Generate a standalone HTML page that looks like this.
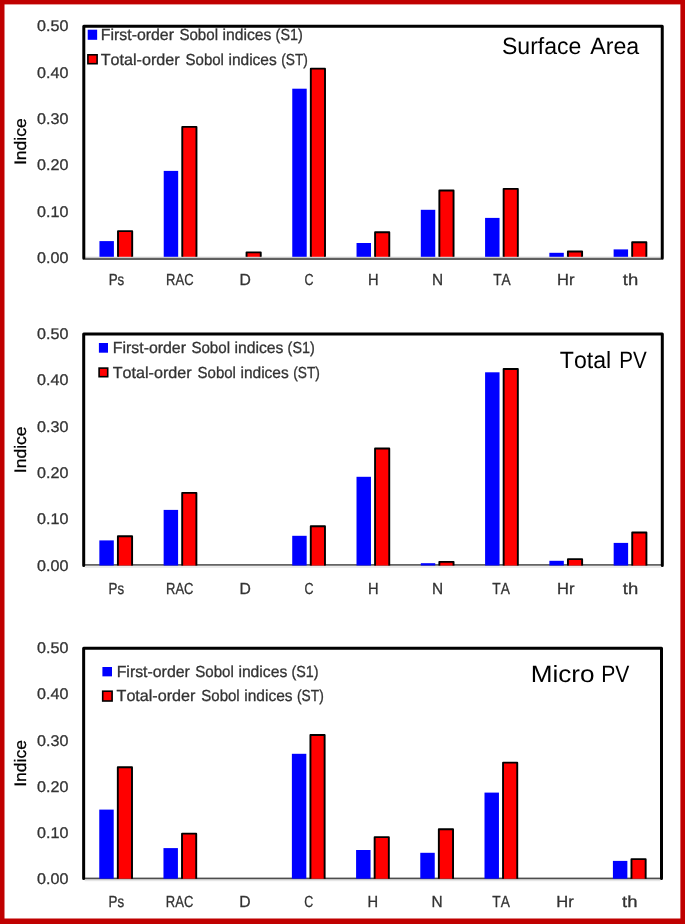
<!DOCTYPE html>
<html><head><meta charset="utf-8"><title>Sobol indices</title>
<style>
html,body{margin:0;padding:0;background:#fff;}
body{width:685px;height:924px;overflow:hidden;}
svg{display:block;will-change:transform;}
text{font-family:"Liberation Sans", sans-serif;font-kerning:none;white-space:pre;text-rendering:geometricPrecision;}
</style></head><body>
<svg width="685" height="924" viewBox="0 0 685 924">
<rect x="0" y="0" width="685" height="924" fill="#ffffff"/>
<rect x="84.8" y="256" width="576.45" height="1" fill="#f2f2f2"/>
<rect x="99.45" y="241.1" width="14.45" height="15.7" fill="#0000ff"/>
<rect x="118" y="231.15" width="14.2" height="25.65" fill="#ff0000"/>
<path d="M118 256.8V231.15H132.2V256.8" fill="none" stroke="#000" stroke-width="1.9" stroke-linejoin="round"/>
<rect x="163.72" y="170.9" width="14.45" height="85.9" fill="#0000ff"/>
<rect x="182.27" y="126.9" width="14.2" height="129.9" fill="#ff0000"/>
<path d="M182.27 256.8V126.9H196.47V256.8" fill="none" stroke="#000" stroke-width="1.9" stroke-linejoin="round"/>
<rect x="246.54" y="252.35" width="14.2" height="4.45" fill="#ff0000"/>
<path d="M246.54 256.8V252.35H260.74V256.8" fill="none" stroke="#000" stroke-width="1.9" stroke-linejoin="round"/>
<rect x="292.26" y="88.7" width="14.45" height="168.1" fill="#0000ff"/>
<rect x="310.81" y="68.65" width="14.2" height="188.15" fill="#ff0000"/>
<path d="M310.81 256.8V68.65H325.01V256.8" fill="none" stroke="#000" stroke-width="1.9" stroke-linejoin="round"/>
<rect x="356.54" y="243" width="14.45" height="13.8" fill="#0000ff"/>
<rect x="375.09" y="232.25" width="14.2" height="24.55" fill="#ff0000"/>
<path d="M375.09 256.8V232.25H389.29V256.8" fill="none" stroke="#000" stroke-width="1.9" stroke-linejoin="round"/>
<rect x="420.81" y="209.8" width="14.45" height="47" fill="#0000ff"/>
<rect x="439.36" y="190.45" width="14.2" height="66.35" fill="#ff0000"/>
<path d="M439.36 256.8V190.45H453.56V256.8" fill="none" stroke="#000" stroke-width="1.9" stroke-linejoin="round"/>
<rect x="485.08" y="217.9" width="14.45" height="38.9" fill="#0000ff"/>
<rect x="503.63" y="188.85" width="14.2" height="67.95" fill="#ff0000"/>
<path d="M503.63 256.8V188.85H517.83V256.8" fill="none" stroke="#000" stroke-width="1.9" stroke-linejoin="round"/>
<rect x="549.35" y="252.8" width="14.45" height="4" fill="#0000ff"/>
<rect x="567.9" y="251.45" width="14.2" height="5.35" fill="#ff0000"/>
<path d="M567.9 256.8V251.45H582.1V256.8" fill="none" stroke="#000" stroke-width="1.9" stroke-linejoin="round"/>
<rect x="613.62" y="249.4" width="14.45" height="7.4" fill="#0000ff"/>
<rect x="632.17" y="242.25" width="14.2" height="14.55" fill="#ff0000"/>
<path d="M632.17 256.8V242.25H646.37V256.8" fill="none" stroke="#000" stroke-width="1.9" stroke-linejoin="round"/>
<rect x="84.8" y="257" width="576.45" height="1.05" fill="#c9c9c9"/>
<rect x="84.8" y="258.05" width="576.45" height="1.9" fill="#595959"/>
<path d="M83.8 258.3V26.35H662.25V258.3" fill="none" stroke="#000" stroke-width="3" stroke-linejoin="round" stroke-linecap="round"/>
<text x="37.02" y="31" font-size="15.4" fill="#333333" textLength="31.41" lengthAdjust="spacingAndGlyphs" stroke="#333333" stroke-width="0.3">0.50</text>
<text x="37.02" y="78" font-size="15.4" fill="#333333" textLength="31.41" lengthAdjust="spacingAndGlyphs" stroke="#333333" stroke-width="0.3">0.40</text>
<text x="37.02" y="124" font-size="15.4" fill="#333333" textLength="31.41" lengthAdjust="spacingAndGlyphs" stroke="#333333" stroke-width="0.3">0.30</text>
<text x="37.02" y="170" font-size="15.4" fill="#333333" textLength="31.41" lengthAdjust="spacingAndGlyphs" stroke="#333333" stroke-width="0.3">0.20</text>
<text x="37.02" y="217" font-size="15.4" fill="#333333" textLength="31.41" lengthAdjust="spacingAndGlyphs" stroke="#333333" stroke-width="0.3">0.10</text>
<text x="37.02" y="263" font-size="15.4" fill="#333333" textLength="31.41" lengthAdjust="spacingAndGlyphs" stroke="#333333" stroke-width="0.3">0.00</text>
<text x="108.7" y="285.1" font-size="16" fill="#333333" textLength="15.58" lengthAdjust="spacingAndGlyphs" stroke="#333333" stroke-width="0.3">Ps</text>
<text x="166.12" y="285.1" font-size="16" fill="#333333" textLength="27.46" lengthAdjust="spacingAndGlyphs" stroke="#333333" stroke-width="0.3">RAC</text>
<text x="239.5" y="285.1" font-size="16" fill="#333333" textLength="11.34" lengthAdjust="spacingAndGlyphs" stroke="#333333" stroke-width="0.3">D</text>
<text x="304.55" y="285.1" font-size="16" fill="#333333" textLength="9.01" lengthAdjust="spacingAndGlyphs" stroke="#333333" stroke-width="0.3">C</text>
<text x="367.97" y="285.1" font-size="16" fill="#333333" textLength="10.6" lengthAdjust="spacingAndGlyphs" stroke="#333333" stroke-width="0.3">H</text>
<text x="431.91" y="285.1" font-size="16" fill="#333333" textLength="11.12" lengthAdjust="spacingAndGlyphs" stroke="#333333" stroke-width="0.3">N</text>
<text x="493.16" y="285.1" font-size="16" fill="#333333" textLength="17.54" lengthAdjust="spacingAndGlyphs" stroke="#333333" stroke-width="0.3">TA</text>
<text x="557" y="285.1" font-size="16" fill="#333333" textLength="17.43" lengthAdjust="spacingAndGlyphs" stroke="#333333" stroke-width="0.3">Hr</text>
<text x="622.77" y="285.1" font-size="16" fill="#333333" textLength="15.38" lengthAdjust="spacingAndGlyphs" stroke="#333333" stroke-width="0.3">th</text>
<text transform="translate(25.5 141.3) rotate(-90)" x="-23.82" y="0" font-size="16.6" fill="#000" stroke="#000" stroke-width="0.25" textLength="46.8" lengthAdjust="spacingAndGlyphs">Indice</text>
<text x="501.95" y="54" font-size="23.5" fill="#000" textLength="79.47" lengthAdjust="spacingAndGlyphs">Surface</text>
<text x="590.25" y="54" font-size="23.5" fill="#000" textLength="48.95" lengthAdjust="spacingAndGlyphs">Area</text>
<rect x="87.7" y="29.7" width="9.45" height="10.1" fill="#0000ff"/>
<rect x="87.9" y="54.8" width="9.2" height="8.9" fill="#ff0000" stroke="#000" stroke-width="1.6"/>
<text x="100.86" y="40" font-size="16" fill="#333333" textLength="73.11" lengthAdjust="spacingAndGlyphs" stroke="#333333" stroke-width="0.3">First-order</text>
<text x="179.42" y="40" font-size="16" fill="#333333" textLength="38.59" lengthAdjust="spacingAndGlyphs" stroke="#333333" stroke-width="0.3">Sobol</text>
<text x="222.56" y="40" font-size="16" fill="#333333" textLength="48.92" lengthAdjust="spacingAndGlyphs" stroke="#333333" stroke-width="0.3">indices</text>
<text x="275.62" y="40" font-size="16" fill="#333333" textLength="27.08" lengthAdjust="spacingAndGlyphs" stroke="#333333" stroke-width="0.3">(S1)</text>
<text x="100.74" y="65" font-size="16" fill="#333333" textLength="78.83" lengthAdjust="spacingAndGlyphs" stroke="#333333" stroke-width="0.3">Total-order</text>
<text x="185.52" y="65" font-size="16" fill="#333333" textLength="38.39" lengthAdjust="spacingAndGlyphs" stroke="#333333" stroke-width="0.3">Sobol</text>
<text x="228.46" y="65" font-size="16" fill="#333333" textLength="48.3" lengthAdjust="spacingAndGlyphs" stroke="#333333" stroke-width="0.3">indices</text>
<text x="281.25" y="65" font-size="16" fill="#333333" textLength="26.7" lengthAdjust="spacingAndGlyphs" stroke="#333333" stroke-width="0.3">(ST)</text>
<rect x="84.7" y="565.7" width="576.6" height="2.3" fill="#ececec"/>
<rect x="84.7" y="564.1" width="576.6" height="1.6" fill="#555555"/>
<rect x="99.35" y="540.4" width="14.45" height="25.1" fill="#0000ff"/>
<rect x="117.9" y="536.25" width="14.2" height="29.25" fill="#ff0000"/>
<path d="M117.9 565.5V536.25H132.1V565.5" fill="none" stroke="#000" stroke-width="1.9" stroke-linejoin="round"/>
<rect x="163.64" y="509.9" width="14.45" height="55.6" fill="#0000ff"/>
<rect x="182.19" y="492.85" width="14.2" height="72.65" fill="#ff0000"/>
<path d="M182.19 565.5V492.85H196.39V565.5" fill="none" stroke="#000" stroke-width="1.9" stroke-linejoin="round"/>
<rect x="292.22" y="535.8" width="14.45" height="29.7" fill="#0000ff"/>
<rect x="310.77" y="526.25" width="14.2" height="39.25" fill="#ff0000"/>
<path d="M310.77 565.5V526.25H324.97V565.5" fill="none" stroke="#000" stroke-width="1.9" stroke-linejoin="round"/>
<rect x="356.51" y="476.8" width="14.45" height="88.7" fill="#0000ff"/>
<rect x="375.06" y="448.45" width="14.2" height="117.05" fill="#ff0000"/>
<path d="M375.06 565.5V448.45H389.26V565.5" fill="none" stroke="#000" stroke-width="1.9" stroke-linejoin="round"/>
<rect x="420.8" y="563.2" width="14.45" height="2.3" fill="#0000ff"/>
<rect x="439.35" y="561.85" width="14.2" height="3.65" fill="#ff0000"/>
<path d="M439.35 565.5V561.85H453.55V565.5" fill="none" stroke="#000" stroke-width="1.9" stroke-linejoin="round"/>
<rect x="485.09" y="372.3" width="14.45" height="193.2" fill="#0000ff"/>
<rect x="503.64" y="369.05" width="14.2" height="196.45" fill="#ff0000"/>
<path d="M503.64 565.5V369.05H517.84V565.5" fill="none" stroke="#000" stroke-width="1.9" stroke-linejoin="round"/>
<rect x="549.38" y="560.8" width="14.45" height="4.7" fill="#0000ff"/>
<rect x="567.93" y="559.15" width="14.2" height="6.35" fill="#ff0000"/>
<path d="M567.93 565.5V559.15H582.13V565.5" fill="none" stroke="#000" stroke-width="1.9" stroke-linejoin="round"/>
<rect x="613.67" y="542.9" width="14.45" height="22.6" fill="#0000ff"/>
<rect x="632.22" y="532.45" width="14.2" height="33.05" fill="#ff0000"/>
<path d="M632.22 565.5V532.45H646.42V565.5" fill="none" stroke="#000" stroke-width="1.9" stroke-linejoin="round"/>
<path d="M83.7 565.4V334.05H662.3V565.4" fill="none" stroke="#000" stroke-width="3" stroke-linejoin="round" stroke-linecap="round"/>
<text x="37.02" y="339" font-size="15.4" fill="#333333" textLength="31.41" lengthAdjust="spacingAndGlyphs" stroke="#333333" stroke-width="0.3">0.50</text>
<text x="37.02" y="385" font-size="15.4" fill="#333333" textLength="31.41" lengthAdjust="spacingAndGlyphs" stroke="#333333" stroke-width="0.3">0.40</text>
<text x="37.02" y="432" font-size="15.4" fill="#333333" textLength="31.41" lengthAdjust="spacingAndGlyphs" stroke="#333333" stroke-width="0.3">0.30</text>
<text x="37.02" y="478" font-size="15.4" fill="#333333" textLength="31.41" lengthAdjust="spacingAndGlyphs" stroke="#333333" stroke-width="0.3">0.20</text>
<text x="37.02" y="524" font-size="15.4" fill="#333333" textLength="31.41" lengthAdjust="spacingAndGlyphs" stroke="#333333" stroke-width="0.3">0.10</text>
<text x="37.02" y="571" font-size="15.4" fill="#333333" textLength="31.41" lengthAdjust="spacingAndGlyphs" stroke="#333333" stroke-width="0.3">0.00</text>
<text x="108.61" y="593.8" font-size="16" fill="#333333" textLength="15.58" lengthAdjust="spacingAndGlyphs" stroke="#333333" stroke-width="0.3">Ps</text>
<text x="166.05" y="593.8" font-size="16" fill="#333333" textLength="27.46" lengthAdjust="spacingAndGlyphs" stroke="#333333" stroke-width="0.3">RAC</text>
<text x="239.44" y="593.8" font-size="16" fill="#333333" textLength="11.34" lengthAdjust="spacingAndGlyphs" stroke="#333333" stroke-width="0.3">D</text>
<text x="304.51" y="593.8" font-size="16" fill="#333333" textLength="9.01" lengthAdjust="spacingAndGlyphs" stroke="#333333" stroke-width="0.3">C</text>
<text x="367.95" y="593.8" font-size="16" fill="#333333" textLength="10.6" lengthAdjust="spacingAndGlyphs" stroke="#333333" stroke-width="0.3">H</text>
<text x="431.9" y="593.8" font-size="16" fill="#333333" textLength="11.12" lengthAdjust="spacingAndGlyphs" stroke="#333333" stroke-width="0.3">N</text>
<text x="492.26" y="593.8" font-size="16" fill="#333333" textLength="17.54" lengthAdjust="spacingAndGlyphs" stroke="#333333" stroke-width="0.3">TA</text>
<text x="557.03" y="593.8" font-size="16" fill="#333333" textLength="17.43" lengthAdjust="spacingAndGlyphs" stroke="#333333" stroke-width="0.3">Hr</text>
<text x="622.82" y="593.8" font-size="16" fill="#333333" textLength="15.38" lengthAdjust="spacingAndGlyphs" stroke="#333333" stroke-width="0.3">th</text>
<text transform="translate(25.5 449.4) rotate(-90)" x="-23.82" y="0" font-size="16.6" fill="#000" stroke="#000" stroke-width="0.25" textLength="46.8" lengthAdjust="spacingAndGlyphs">Indice</text>
<text x="559.78" y="368" font-size="23.5" fill="#000" textLength="51.36" lengthAdjust="spacingAndGlyphs">Total</text>
<text x="619.31" y="368" font-size="23.5" fill="#000" textLength="27.48" lengthAdjust="spacingAndGlyphs">PV</text>
<rect x="98.9" y="343" width="9.1" height="9.7" fill="#0000ff"/>
<rect x="99.1" y="368.1" width="8.6" height="8.6" fill="#ff0000" stroke="#000" stroke-width="1.6"/>
<text x="112.86" y="353" font-size="16" fill="#333333" textLength="73.11" lengthAdjust="spacingAndGlyphs" stroke="#333333" stroke-width="0.3">First-order</text>
<text x="191.42" y="353" font-size="16" fill="#333333" textLength="38.59" lengthAdjust="spacingAndGlyphs" stroke="#333333" stroke-width="0.3">Sobol</text>
<text x="234.56" y="353" font-size="16" fill="#333333" textLength="48.92" lengthAdjust="spacingAndGlyphs" stroke="#333333" stroke-width="0.3">indices</text>
<text x="287.62" y="353" font-size="16" fill="#333333" textLength="27.08" lengthAdjust="spacingAndGlyphs" stroke="#333333" stroke-width="0.3">(S1)</text>
<text x="112.74" y="378" font-size="16" fill="#333333" textLength="78.83" lengthAdjust="spacingAndGlyphs" stroke="#333333" stroke-width="0.3">Total-order</text>
<text x="197.52" y="378" font-size="16" fill="#333333" textLength="38.39" lengthAdjust="spacingAndGlyphs" stroke="#333333" stroke-width="0.3">Sobol</text>
<text x="240.46" y="378" font-size="16" fill="#333333" textLength="48.3" lengthAdjust="spacingAndGlyphs" stroke="#333333" stroke-width="0.3">indices</text>
<text x="293.25" y="378" font-size="16" fill="#333333" textLength="26.7" lengthAdjust="spacingAndGlyphs" stroke="#333333" stroke-width="0.3">(ST)</text>
<rect x="84.65" y="879.25" width="575.85" height="1.95" fill="#e6e6e6"/>
<rect x="84.65" y="877.6" width="575.85" height="1.65" fill="#4d4d4d"/>
<rect x="99.26" y="809.6" width="14.45" height="69.1" fill="#0000ff"/>
<rect x="117.81" y="767.25" width="14.2" height="111.45" fill="#ff0000"/>
<path d="M117.81 878.7V767.25H132.01V878.7" fill="none" stroke="#000" stroke-width="1.9" stroke-linejoin="round"/>
<rect x="163.47" y="848.1" width="14.45" height="30.6" fill="#0000ff"/>
<rect x="182.02" y="833.65" width="14.2" height="45.05" fill="#ff0000"/>
<path d="M182.02 878.7V833.65H196.22V878.7" fill="none" stroke="#000" stroke-width="1.9" stroke-linejoin="round"/>
<rect x="291.88" y="753.8" width="14.45" height="124.9" fill="#0000ff"/>
<rect x="310.43" y="734.95" width="14.2" height="143.75" fill="#ff0000"/>
<path d="M310.43 878.7V734.95H324.63V878.7" fill="none" stroke="#000" stroke-width="1.9" stroke-linejoin="round"/>
<rect x="356.09" y="850" width="14.45" height="28.7" fill="#0000ff"/>
<rect x="374.64" y="837.15" width="14.2" height="41.55" fill="#ff0000"/>
<path d="M374.64 878.7V837.15H388.84V878.7" fill="none" stroke="#000" stroke-width="1.9" stroke-linejoin="round"/>
<rect x="420.29" y="852.8" width="14.45" height="25.9" fill="#0000ff"/>
<rect x="438.84" y="829.25" width="14.2" height="49.45" fill="#ff0000"/>
<path d="M438.84 878.7V829.25H453.04V878.7" fill="none" stroke="#000" stroke-width="1.9" stroke-linejoin="round"/>
<rect x="484.5" y="792.6" width="14.45" height="86.1" fill="#0000ff"/>
<rect x="503.05" y="762.65" width="14.2" height="116.05" fill="#ff0000"/>
<path d="M503.05 878.7V762.65H517.25V878.7" fill="none" stroke="#000" stroke-width="1.9" stroke-linejoin="round"/>
<rect x="612.91" y="860.9" width="14.45" height="17.8" fill="#0000ff"/>
<rect x="631.46" y="859.15" width="14.2" height="19.55" fill="#ff0000"/>
<path d="M631.46 878.7V859.15H645.66V878.7" fill="none" stroke="#000" stroke-width="1.9" stroke-linejoin="round"/>
<path d="M83.65 878.6V648.2H661.5V878.6" fill="none" stroke="#000" stroke-width="3" stroke-linejoin="round" stroke-linecap="round"/>
<text x="37.02" y="653" font-size="15.4" fill="#333333" textLength="31.41" lengthAdjust="spacingAndGlyphs" stroke="#333333" stroke-width="0.3">0.50</text>
<text x="37.02" y="699" font-size="15.4" fill="#333333" textLength="31.41" lengthAdjust="spacingAndGlyphs" stroke="#333333" stroke-width="0.3">0.40</text>
<text x="37.02" y="746" font-size="15.4" fill="#333333" textLength="31.41" lengthAdjust="spacingAndGlyphs" stroke="#333333" stroke-width="0.3">0.30</text>
<text x="37.02" y="792" font-size="15.4" fill="#333333" textLength="31.41" lengthAdjust="spacingAndGlyphs" stroke="#333333" stroke-width="0.3">0.20</text>
<text x="37.02" y="838" font-size="15.4" fill="#333333" textLength="31.41" lengthAdjust="spacingAndGlyphs" stroke="#333333" stroke-width="0.3">0.10</text>
<text x="37.02" y="884" font-size="15.4" fill="#333333" textLength="31.41" lengthAdjust="spacingAndGlyphs" stroke="#333333" stroke-width="0.3">0.00</text>
<text x="108.52" y="907" font-size="16" fill="#333333" textLength="15.58" lengthAdjust="spacingAndGlyphs" stroke="#333333" stroke-width="0.3">Ps</text>
<text x="165.87" y="907" font-size="16" fill="#333333" textLength="27.46" lengthAdjust="spacingAndGlyphs" stroke="#333333" stroke-width="0.3">RAC</text>
<text x="239.18" y="907" font-size="16" fill="#333333" textLength="11.34" lengthAdjust="spacingAndGlyphs" stroke="#333333" stroke-width="0.3">D</text>
<text x="304.16" y="907" font-size="16" fill="#333333" textLength="9.01" lengthAdjust="spacingAndGlyphs" stroke="#333333" stroke-width="0.3">C</text>
<text x="367.52" y="907" font-size="16" fill="#333333" textLength="10.6" lengthAdjust="spacingAndGlyphs" stroke="#333333" stroke-width="0.3">H</text>
<text x="431.39" y="907" font-size="16" fill="#333333" textLength="11.12" lengthAdjust="spacingAndGlyphs" stroke="#333333" stroke-width="0.3">N</text>
<text x="492.27" y="907" font-size="16" fill="#333333" textLength="17.54" lengthAdjust="spacingAndGlyphs" stroke="#333333" stroke-width="0.3">TA</text>
<text x="556.35" y="907" font-size="16" fill="#333333" textLength="17.43" lengthAdjust="spacingAndGlyphs" stroke="#333333" stroke-width="0.3">Hr</text>
<text x="622.06" y="907" font-size="16" fill="#333333" textLength="15.38" lengthAdjust="spacingAndGlyphs" stroke="#333333" stroke-width="0.3">th</text>
<text transform="translate(25.5 763.05) rotate(-90)" x="-23.82" y="0" font-size="16.6" fill="#000" stroke="#000" stroke-width="0.25" textLength="46.8" lengthAdjust="spacingAndGlyphs">Indice</text>
<text x="530.65" y="682" font-size="23.5" fill="#000" textLength="63.94" lengthAdjust="spacingAndGlyphs">Micro</text>
<text x="601.16" y="682" font-size="23.5" fill="#000" textLength="28.23" lengthAdjust="spacingAndGlyphs">PV</text>
<rect x="102.4" y="667" width="9.6" height="9.35" fill="#0000ff"/>
<rect x="102.7" y="691.2" width="9.4" height="9.8" fill="#ff0000" stroke="#000" stroke-width="1.6"/>
<text x="116.7" y="677" font-size="16" fill="#333333" textLength="73.11" lengthAdjust="spacingAndGlyphs" stroke="#333333" stroke-width="0.3">First-order</text>
<text x="195.26" y="677" font-size="16" fill="#333333" textLength="38.59" lengthAdjust="spacingAndGlyphs" stroke="#333333" stroke-width="0.3">Sobol</text>
<text x="238.4" y="677" font-size="16" fill="#333333" textLength="48.92" lengthAdjust="spacingAndGlyphs" stroke="#333333" stroke-width="0.3">indices</text>
<text x="291.46" y="677" font-size="16" fill="#333333" textLength="27.08" lengthAdjust="spacingAndGlyphs" stroke="#333333" stroke-width="0.3">(S1)</text>
<text x="116.54" y="701" font-size="16" fill="#333333" textLength="78.83" lengthAdjust="spacingAndGlyphs" stroke="#333333" stroke-width="0.3">Total-order</text>
<text x="201.32" y="701" font-size="16" fill="#333333" textLength="38.39" lengthAdjust="spacingAndGlyphs" stroke="#333333" stroke-width="0.3">Sobol</text>
<text x="244.26" y="701" font-size="16" fill="#333333" textLength="48.3" lengthAdjust="spacingAndGlyphs" stroke="#333333" stroke-width="0.3">indices</text>
<text x="297.05" y="701" font-size="16" fill="#333333" textLength="26.7" lengthAdjust="spacingAndGlyphs" stroke="#333333" stroke-width="0.3">(ST)</text>
<rect x="0" y="0" width="4.5" height="924" fill="#c00000"/>
<rect x="0" y="0" width="685" height="4.4" fill="#c00000"/>
<rect x="680.4" y="0" width="4.6" height="924" fill="#c00000"/>
<rect x="0" y="918.5" width="685" height="5.5" fill="#c00000"/>
</svg>
</body></html>
